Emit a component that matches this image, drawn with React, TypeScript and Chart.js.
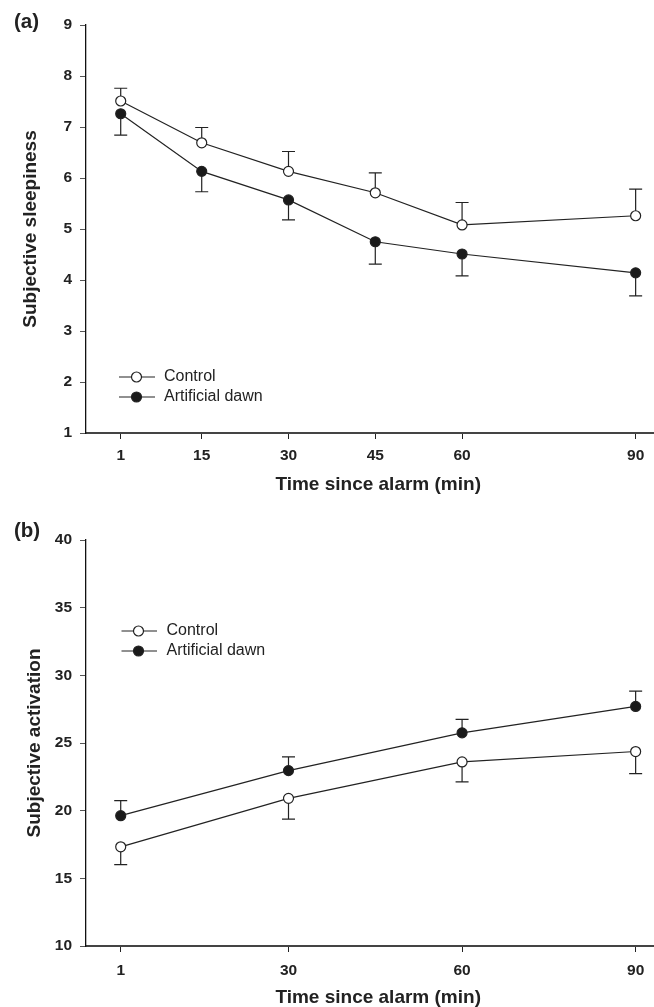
import React, { useEffect, useRef } from 'react';
import { Chart, registerables } from 'chart.js';

Chart.register(...registerables);

// ---- Data ----
const timesA = [1, 15, 30, 45, 60, 90];
const xTicksA = [1, 15, 30, 45, 60, 90];
const yTicksA = [1, 2, 3, 4, 5, 6, 7, 8, 9];
const sleepControl = [7.51, 6.69, 6.13, 5.71, 5.08, 5.26];
const sleepControlSE = [0.25, 0.3, 0.39, 0.39, 0.44, 0.52];
const sleepDawn = [7.26, 6.13, 5.57, 4.75, 4.51, 4.14];
const sleepDawnSE = [0.42, 0.4, 0.39, 0.44, 0.43, 0.45];

const timesB = [1, 30, 60, 90];
const xTicksB = [1, 30, 60, 90];
const yTicksB = [10, 15, 20, 25, 30, 35, 40];
const actControl = [17.33, 20.91, 23.6, 24.37];
const actControlSE = [1.31, 1.53, 1.47, 1.63];
const actDawn = [19.63, 22.96, 25.75, 27.7];
const actDawnSE = [1.11, 1.02, 0.99, 1.14];

const seriesNames = ['Control', 'Artificial dawn'];
const xTitle = 'Time since alarm (min)';

const FONT = '"Liberation Sans", Arial, Helvetica, sans-serif';
const INK = '#222';

const errorBarPlugin = {
  id: 'errorBars',
  beforeDatasetsDraw(chart: any) {
    const { ctx } = chart;
    const ys = chart.scales.y;
    chart.data.datasets.forEach((ds: any, i: number) => {
      const meta = chart.getDatasetMeta(i);
      ctx.save();
      ctx.strokeStyle = INK;
      ctx.lineWidth = 1.2;
      meta.data.forEach((pt: any, j: number) => {
        const v = ds.data[j].y;
        const yEnd = ys.getPixelForValue(v + ds.errorDir * ds.errors[j]);
        ctx.beginPath();
        ctx.moveTo(pt.x, pt.y);
        ctx.lineTo(pt.x, yEnd);
        ctx.moveTo(pt.x - 6.5, yEnd);
        ctx.lineTo(pt.x + 6.5, yEnd);
        ctx.stroke();
      });
      ctx.restore();
    });
  },
};

const legendPlugin = {
  id: 'customLegend',
  afterDraw(chart: any, _args: any, opts: any) {
    const { ctx } = chart;
    ctx.save();
    chart.data.datasets.forEach((ds: any, i: number) => {
      const y = opts.rows[i];
      ctx.strokeStyle = INK;
      ctx.lineWidth = 1.2;
      ctx.beginPath();
      ctx.moveTo(opts.x0, y);
      ctx.lineTo(opts.x1, y);
      ctx.stroke();
      ctx.beginPath();
      ctx.arc(opts.mx, y, 5, 0, Math.PI * 2);
      ctx.fillStyle = ds.pointBackgroundColor;
      ctx.fill();
      ctx.stroke();
      ctx.fillStyle = INK;
      ctx.font = `16px ${FONT}`;
      ctx.textAlign = 'left';
      ctx.textBaseline = 'middle';
      ctx.fillText(ds.label, opts.tx, y);
    });
    ctx.restore();
  },
};

const textPlugin = {
  id: 'panelText',
  afterDraw(chart: any, _args: any, opts: any) {
    const { ctx } = chart;
    ctx.save();
    ctx.fillStyle = INK;
    ctx.textBaseline = 'middle';
    // panel letter
    ctx.font = `bold 20.5px ${FONT}`;
    ctx.textAlign = 'left';
    ctx.fillText(opts.label, opts.lx, opts.ly);
    // x-axis title centred on the tick range
    const xs = chart.scales.x;
    const t = opts.xTicks;
    const cx = (xs.getPixelForValue(t[0]) + xs.getPixelForValue(t[t.length - 1])) / 2;
    ctx.font = `bold 19px ${FONT}`;
    ctx.textAlign = 'center';
    ctx.fillText(opts.xTitle, cx, opts.ty);
    ctx.restore();
  },
};

function makeConfig(p: any) {
  const mk = (name: string, vals: number[], se: number[], dir: number, fill: string) => ({
    label: name,
    data: p.times.map((t: number, i: number) => ({ x: t, y: vals[i] })),
    errors: se,
    errorDir: dir,
    borderColor: INK,
    borderWidth: 1.2,
    pointRadius: 5,
    pointBackgroundColor: fill,
    pointBorderColor: INK,
    pointBorderWidth: 1.2,
    fill: false,
    tension: 0,
  });
  return {
    type: 'line',
    data: {
      datasets: [
        mk(seriesNames[0], p.control, p.controlSE, p.controlDir, '#ffffff'),
        mk(seriesNames[1], p.dawn, p.dawnSE, p.dawnDir, '#1a1a1a'),
      ],
    },
    options: {
      responsive: false,
      maintainAspectRatio: false,
      animation: false,
      events: [],
      layout: { autoPadding: false, padding: { top: p.padTop, right: 1, bottom: 0, left: 0 } },
      plugins: {
        legend: { display: false },
        tooltip: { enabled: false },
        customLegend: p.legend,
        panelText: { label: p.label, lx: 14, ly: p.labelY, xTitle, xTicks: p.xTicks, ty: p.xTitleY },
      },
      scales: {
        x: {
          type: 'linear',
          min: -5,
          max: 93,
          afterBuildTicks: (s: any) => {
            s.ticks = p.xTicks.map((v: number) => ({ value: v }));
          },
          afterFit: (s: any) => {
            s.height = p.xHeight;
            s.paddingLeft = 0;
            s.paddingRight = 0;
          },
          grid: { drawOnChartArea: false, drawTicks: true, tickLength: 6, tickColor: INK, tickWidth: 1 },
          border: { display: true, color: '#444', width: 2 },
          ticks: {
            padding: p.xTickPad,
            color: INK,
            autoSkip: false,
            maxRotation: 0,
            font: { family: FONT, size: 15.5, weight: 'bold' },
            callback: (v: any) => String(v),
          },
          title: { display: false },
        },
        y: {
          type: 'linear',
          min: p.yTicks[0],
          max: p.yTicks[p.yTicks.length - 1],
          afterBuildTicks: (s: any) => {
            s.ticks = p.yTicks.map((v: number) => ({ value: v }));
          },
          afterFit: (s: any) => {
            s.width = 86;
            s.paddingTop = 0;
            s.paddingBottom = 0;
          },
          grid: { drawOnChartArea: false, drawTicks: true, tickLength: 6, tickColor: '#555', tickWidth: 1 },
          border: { display: true, color: '#111', width: 1.3 },
          ticks: {
            padding: 8,
            color: INK,
            font: { family: FONT, size: 15.5, weight: 'bold' },
            callback: (v: any) => String(v),
          },
          title: {
            display: true,
            text: p.yTitle,
            color: INK,
            font: { family: FONT, size: 19, weight: 'bold', lineHeight: 1 },
            padding: { top: p.yTitlePad, bottom: 0 },
          },
        },
      },
    },
    plugins: [errorBarPlugin, legendPlugin, textPlugin],
  };
}

function Panel({ cfg, top, height }: { cfg: any; top: number; height: number }) {
  const ref = useRef<HTMLCanvasElement | null>(null);
  useEffect(() => {
    if (!ref.current) return;
    const chart = new Chart(ref.current, cfg);
    return () => chart.destroy();
  }, [cfg]);
  return (
    <canvas
      ref={ref}
      width={654}
      height={height}
      style={{ position: 'absolute', left: 0, top, width: 654, height, display: 'block' }}
    />
  );
}

const cfgA = makeConfig({
  times: timesA,
  xTicks: xTicksA,
  yTicks: yTicksA,
  control: sleepControl,
  controlSE: sleepControlSE,
  controlDir: 1,
  dawn: sleepDawn,
  dawnSE: sleepDawnSE,
  dawnDir: -1,
  yTitle: 'Subjective sleepiness',
  padTop: 25,
  xHeight: 70,
  xTickPad: 7,
  xTitleY: 485,
  yTitlePad: 21.5,
  legend: { x0: 119, x1: 155, mx: 136.5, tx: 164, rows: [377, 397] },
  label: '(a)',
  labelY: 22,
});

const cfgB = makeConfig({
  times: timesB,
  xTicks: xTicksB,
  yTicks: yTicksB,
  control: actControl,
  controlSE: actControlSE,
  controlDir: -1,
  dawn: actDawn,
  dawnSE: actDawnSE,
  dawnDir: 1,
  yTitle: 'Subjective activation',
  padTop: 37,
  xHeight: 61,
  xTickPad: 9,
  xTitleY: 495,
  yTitlePad: 25.5,
  legend: { x0: 121.5, x1: 157, mx: 138.5, tx: 166.5, rows: [128, 148] },
  label: '(b)',
  labelY: 28,
});

export default function App() {
  return (
    <div style={{ position: 'absolute', left: 0, top: 0, width: 654, height: 1007, background: '#fff', overflow: 'hidden' }}>
      <Panel cfg={cfgA} top={0} height={503} />
      <Panel cfg={cfgB} top={503} height={504} />
    </div>
  );
}
